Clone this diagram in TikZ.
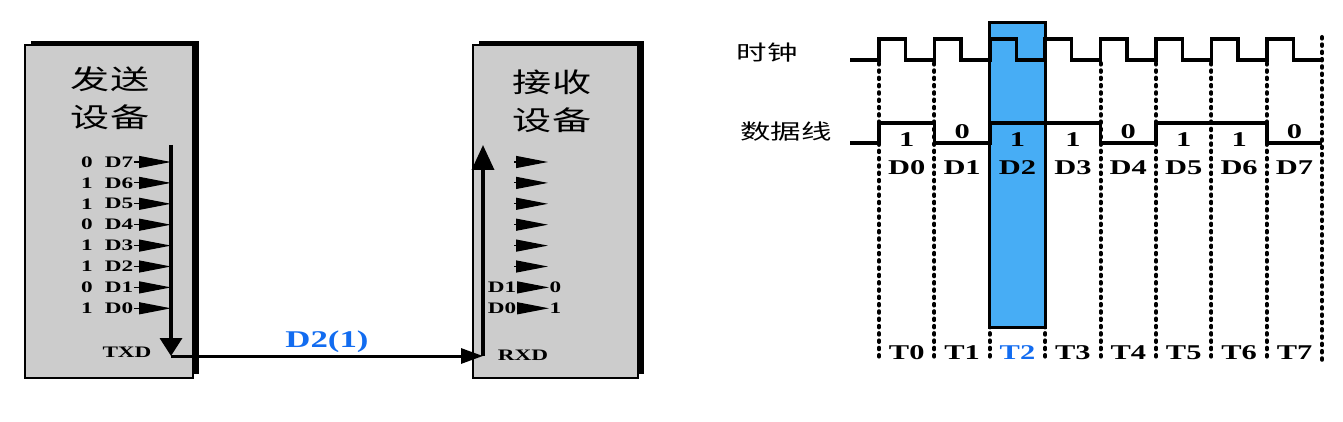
\documentclass[tikz,border=0pt]{standalone}
\usepackage{fontspec}
\usepackage{graphicx}
\setmainfont{Liberation Serif}
\newfontfamily\cjk{Noto Sans CJK SC}
\usetikzlibrary{arrows.meta, shadows}
\definecolor{devgray}{RGB}{204,204,204}
\definecolor{slotblue}{RGB}{71,173,245}
\definecolor{textblue}{RGB}{18,108,240}
\newcommand{\wide}[1]{\scalebox{1.45}[1]{#1}}

\begin{document}
\begin{tikzpicture}[x=1pt, y=-1pt,
			device/.style={draw=black, line width=1.2pt, fill=devgray, minimum width=168pt, minimum height=333pt, inner sep=0pt,
				drop shadow={shadow xshift=6pt, shadow yshift=4pt, fill=black, opacity=1}},
			title/.style={font=\cjk\fontsize{27}{38}\selectfont, align=center, inner sep=0pt},
			lbl/.style={font=\bfseries\fontsize{16}{16}\selectfont, inner sep=0.5pt},
			tri/.style={-{Triangle[length=32pt, width=12pt]}, line width=1.2pt},
			bus/.style={-{Triangle[length=18pt, width=22pt]}, line width=3.5pt},
			link/.style={-{Triangle[length=22pt, width=15pt]}, line width=3pt},
			wave/.style={line width=3.5pt, line join=miter},
			grid/.style={line width=4pt, line cap=round, dash pattern=on 1.6pt off 5.7pt},
			slot/.style={draw=black, line width=3.5pt, fill=slotblue},
			sig/.style={font=\cjk\fontsize{21}{21}\selectfont, inner sep=0pt},
			tick/.style={font=\bfseries\fontsize{21}{21}\selectfont, inner sep=0pt}]
			\useasboundingbox (0,0) rectangle (1343,422);
			% sender and receiver
			\node[device] (send) at (109,211.5) {};
			\node[device, minimum width=165pt] (recv) at (555.5,211.5) {};
			\node[title] (sendname) at (110,98) {\wide{发送}\\\wide{设备}};
			\node[title] (recvname) at (552,101) {\wide{接收}\\\wide{设备}};
			\coordinate (txtop) at (171,145);
			\coordinate (txd) at (171,356);
			\coordinate (rxd) at (483,356);
			\coordinate (rxtop) at (483,145);
			\foreach \i/\b in {7/0,6/1,5/1,4/0,3/1,2/1,1/0,0/1} {
				\pgfmathsetmacro{\yy}{162+20.9*(7-\i)}
				\node[lbl] (sb\i) at (87,\yy) {\wide{\b}};
				\node[lbl] (sd\i) at (119,\yy) {\wide{D\i}};
				\draw[tri] (sd\i.east) -- (sd\i.east -| txtop);
			}
			\foreach \i in {7,...,2} {
				\pgfmathsetmacro{\yy}{162+20.9*(7-\i)}
				\coordinate (ra\i) at (514,\yy);
				\coordinate (rb\i) at (548,\yy);
				\draw[tri] (ra\i) -- (rb\i);
			}
			\foreach \i/\b in {1/0,0/1} {
				\pgfmathsetmacro{\yy}{162+20.9*(7-\i)}
				\node[lbl] (rd\i) at (502,\yy) {\wide{D\i}};
				\node[lbl, anchor=west] (rv\i) at (549,\yy) {\wide{\b}};
				\draw[tri] (rd\i.east) -- (rv\i.west);
			}
			\node[lbl] (txdname) at (127,352) {\wide{TXD}};
			\node[lbl] (rxdname) at (523,355) {\wide{RXD}};
			\draw[bus] (txtop) -- (txd);
			\draw[link] (txd) -- node[above=2pt, font=\bfseries\fontsize{24}{24}\selectfont, text=textblue, inner sep=0pt] (frame) {\wide{D2(1)}} (rxd);
			\draw[bus, -{Triangle[length=25pt, width=22pt]}] (rxd) -- (rxtop);
			% timing diagram
			\node[sig] (clkname) at (767,53) {\wide{时钟}};
			\node[sig] (dataname) at (786,132) {\wide{数据线}};
			\foreach \k in {0,...,7}
				\draw[grid] ({879+55.4*\k},63) -- ({879+55.4*\k},360);
			\draw[grid] (1322,37) -- (1322,360);
			\draw[slot] (989.5,22.5) rectangle (1045.5,327.5);
			\draw[wave] (850,60) foreach \k [evaluate=\k as \xa using 879+55.4*\k, evaluate=\k as \xb using 905.5+55.4*\k] in {0,...,7} {
				-- (\xa,60) -- (\xa,39) -- (\xb,39) -- (\xb,60) } -- (1322,60);
			\draw[wave] (850,143) -- (879,143) foreach \k/\lv in {0/123,1/143,2/123,3/123,4/143,5/123,6/123,7/143} {
				-- ({879+55.4*\k},\lv) -- ({934.4+55.4*\k},\lv) };
			\foreach \k/\b/\c in {0/1/black,1/0/black,2/1/textblue,3/1/black,4/0/black,5/1/black,6/1/black,7/0/black} {
				\pgfmathsetmacro{\xc}{906.7+55.4*\k}
				\pgfmathsetmacro{\yb}{ifthenelse(\b==1,140,132)}
				\node[tick] (v\k) at (\xc,\yb) {\wide{\b}};
				\node[tick] (d\k) at (\xc,168) {\wide{D\k}};
				\node[tick, text=\c] (t\k) at (\xc,353) {\wide{T\k}};
			}
		\end{tikzpicture}
\end{document}
